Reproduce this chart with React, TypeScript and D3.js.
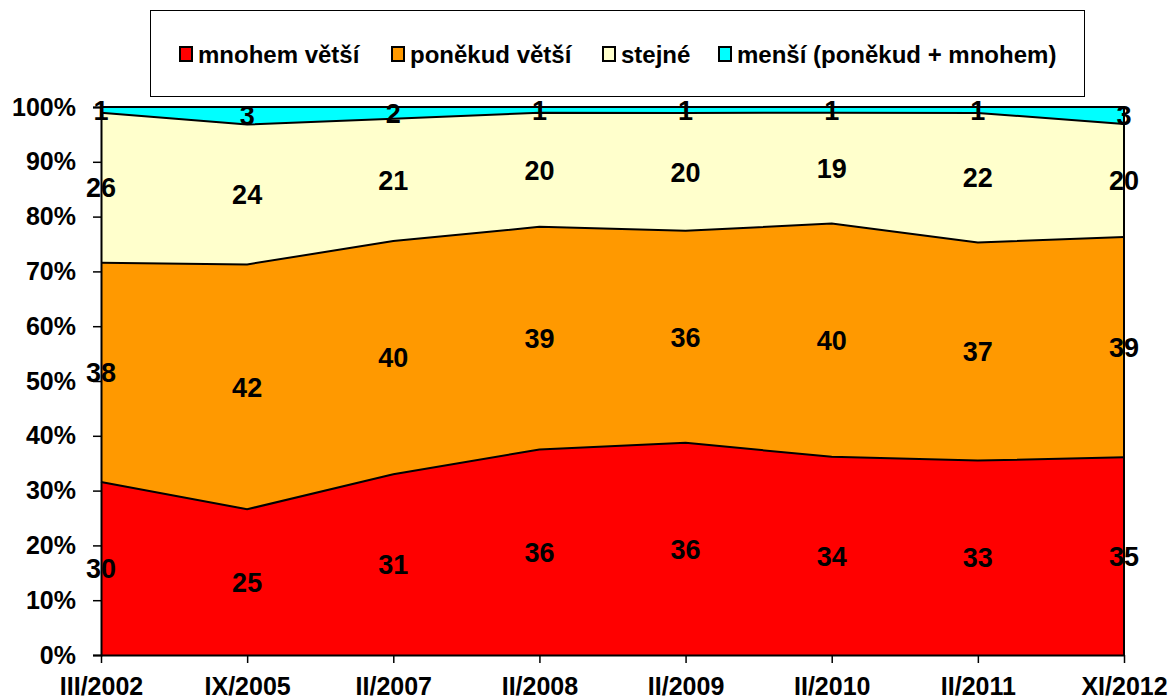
import * as d3 from "d3";
import React, { useEffect, useRef } from "react";

const categories = ["III/2002", "IX/2005", "II/2007", "II/2008", "II/2009", "II/2010", "II/2011", "XI/2012"];
const seriesNames = ["mnohem větší", "poněkud větší", "stejné", "menší (poněkud + mnohem)"];
const mnohemVetsi = [30, 25, 31, 36, 36, 34, 33, 35];
const ponekudVetsi = [38, 42, 40, 39, 36, 40, 37, 39];
const stejne = [26, 24, 21, 20, 20, 19, 22, 20];
const mensi = [1, 3, 2, 1, 1, 1, 1, 3];
const yTicks = [0, 0.1, 0.2, 0.3, 0.4, 0.5, 0.6, 0.7, 0.8, 0.9, 1];
const colors = ["#FF0000", "#FF9900", "#FFFFCC", "#00FFFF"];

export default function App() {
  const ref = useRef<SVGSVGElement>(null);

  useEffect(() => {
    const svg = d3.select(ref.current);
    svg.selectAll("*").remove();
    const font = "Liberation Sans, Arial, sans-serif";
    const left = 101, right = 1124, top = 107, bottom = 655;

    const rows = categories.map((c, i) => ({
      cat: c,
      s0: mnohemVetsi[i], s1: ponekudVetsi[i], s2: stejne[i], s3: mensi[i],
    }));
    const stack = d3.stack<any>()
      .keys(["s0", "s1", "s2", "s3"])
      .offset(d3.stackOffsetExpand);
    const series = stack(rows);

    const x = d3.scalePoint().domain(categories).range([left, right]);
    const y = d3.scaleLinear().domain([0, 1]).range([bottom, top]);

    const area = d3.area<any>()
      .x((d) => x(d.data.cat)!)
      .y0((d) => y(d[0]))
      .y1((d) => y(d[1]));
    const line = d3.line<any>()
      .x((d) => x(d.data.cat)!)
      .y((d) => y(d[1]));

    const g = svg.append("g");
    g.selectAll("path.area")
      .data(series)
      .join("path")
      .attr("class", "area")
      .attr("d", area as any)
      .attr("fill", (_, i) => colors[i]);

    g.selectAll("path.line")
      .data(series)
      .join("path")
      .attr("class", "line")
      .attr("d", line as any)
      .attr("fill", "none")
      .attr("stroke", "black")
      .attr("stroke-width", 2);

    // right edge
    g.append("line")
      .attr("x1", right).attr("x2", right)
      .attr("y1", y(0)).attr("y2", y(1))
      .attr("stroke", "black").attr("stroke-width", 2);

    // y axis
    const yAxis = g.append("g").attr("transform", `translate(${left},0)`)
      .call(d3.axisLeft(y).tickValues(yTicks).tickFormat(d3.format(".0%")).tickSize(8).tickPadding(17));
    yAxis.select(".domain").attr("stroke-width", 2);
    yAxis.selectAll(".tick line").attr("stroke-width", 1.5);
    yAxis.selectAll("text")
      .attr("font-family", font).attr("font-weight", "bold").attr("font-size", 25).attr("fill", "black");

    // x axis
    const xAxis = g.append("g").attr("transform", `translate(0,${bottom})`)
      .call(d3.axisBottom(x).tickSize(8).tickPadding(14).tickSizeOuter(0));
    xAxis.select(".domain").attr("stroke-width", 2);
    xAxis.selectAll(".tick line").attr("stroke-width", 1.5);
    xAxis.selectAll("text")
      .attr("font-family", font).attr("font-weight", "bold").attr("font-size", 25).attr("fill", "black");

    // value labels
    const allValues = [mnohemVetsi, ponekudVetsi, stejne, mensi];
    series.forEach((s, si) => {
      g.selectAll(`text.lab${si}`)
        .data(s)
        .join("text")
        .attr("class", `lab${si}`)
        .attr("x", (d) => x(d.data.cat)!)
        .attr("y", (d) => y((d[0] + d[1]) / 2))
        .attr("dy", "0.36em")
        .attr("text-anchor", "middle")
        .attr("font-family", font)
        .attr("font-weight", "bold")
        .attr("font-size", 27)
        .attr("fill", "black")
        .text((_, i) => allValues[si][i]);
    });

    // legend
    const lg = svg.append("g");
    lg.append("rect")
      .attr("x", 150.5).attr("y", 10.5).attr("width", 934).attr("height", 86)
      .attr("fill", "white").attr("stroke", "black").attr("stroke-width", 1);
    const itemX = [180, 392, 603, 719];
    seriesNames.forEach((n, i) => {
      lg.append("rect")
        .attr("x", itemX[i]).attr("y", 47).attr("width", 12).attr("height", 14)
        .attr("fill", colors[i]).attr("stroke", "black").attr("stroke-width", 2);
      lg.append("text")
        .attr("x", itemX[i] + 18).attr("y", 63)
        .attr("font-family", font).attr("font-weight", "bold").attr("font-size", 24)
        .attr("fill", "black")
        .text(n);
    });
  }, []);

  return (
    <svg ref={ref} width={1173} height={697} style={{ position: "absolute", left: 0, top: 0, background: "white" }} />
  );
}
